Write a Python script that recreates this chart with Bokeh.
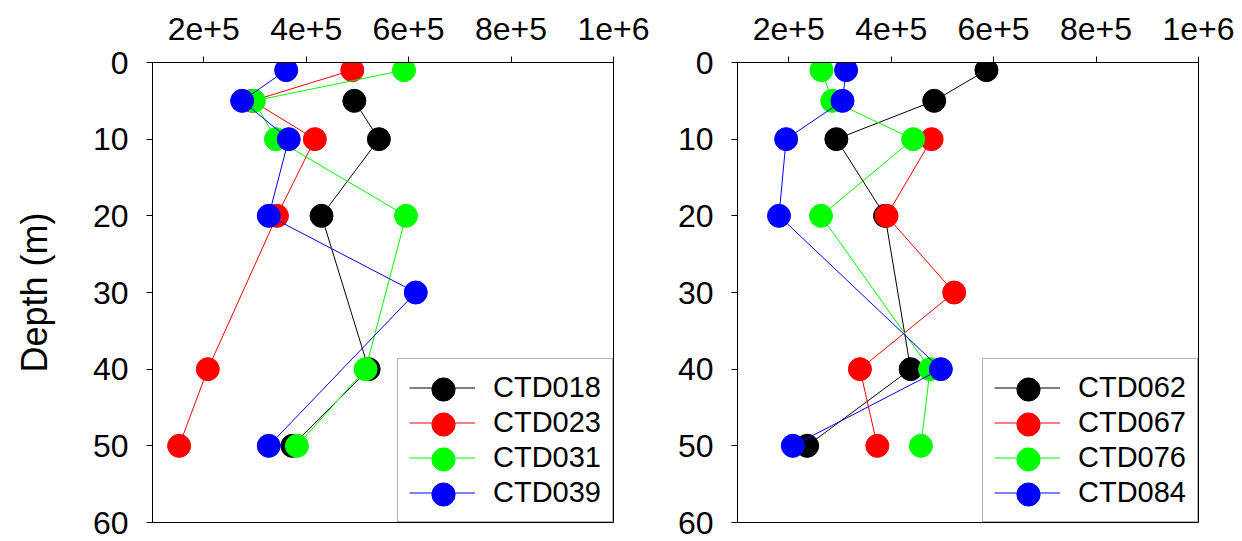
from bokeh.plotting import figure
from bokeh.layouts import row
from bokeh.models import Range1d, FixedTicker, Legend, LegendItem
from bokeh.embed import file_html
from bokeh.resources import INLINE

# ---------------- data ----------------
x_ticks = [200000, 400000, 600000, 800000, 1000000]
x_tick_labels = ["2e+5", "4e+5", "6e+5", "8e+5", "1e+6"]
y_ticks = [0, 10, 20, 30, 40, 50, 60]

# left panel (surface samples sit at 1 m)
depth_018 = [5, 10, 20, 40, 50]
ctd018 = [494000, 542000, 430000, 522000, 373000]
depth_023 = [1, 5, 10, 20, 40, 50]
ctd023 = [490000, 295000, 417000, 343000, 208000, 152000]
depth_031 = [1, 5, 10, 20, 40, 50]
ctd031 = [591000, 298000, 341000, 595000, 516000, 382000]
depth_039 = [1, 5, 10, 20, 30, 50]
ctd039 = [361000, 275000, 366000, 327000, 614000, 327000]

# right panel
depth_062 = [1, 5, 10, 20, 40, 50]
ctd062 = [586000, 484000, 293000, 388000, 438000, 236000]
depth_067 = [10, 20, 30, 40, 50]
ctd067 = [479000, 391000, 523000, 339000, 373000]
depth_076 = [1, 5, 10, 20, 40, 50]
ctd076 = [264000, 285000, 443000, 263000, 476000, 458000]
depth_084 = [1, 5, 10, 20, 40, 50]
ctd084 = [312000, 305000, 195000, 181000, 497000, 208000]

colors = ["#000000", "#FF0000", "#00FF00", "#0000FF"]
FONT = "Liberation Sans"
FRAME_W = 461
MARKER = 23

# legend geometry
LG_PAD = 11
LG_GLYPH_W = 66
LG_ROW = 35
LG_STANDOFF = 18
LG_LABEL_W = 108


def make_fig(width, border_left, border_right, ylabel):
    p = figure(width=width, height=541,
               x_range=Range1d(100000, 1000000), y_range=Range1d(60, 0),
               x_axis_location="above",
               output_backend="svg", toolbar_location=None,
               min_border_left=border_left, min_border_right=border_right,
               min_border_top=62, min_border_bottom=19)
    p.grid.visible = False
    p.outline_line_color = "black"
    p.outline_line_width = 1
    p.outline_line_alpha = 1
    p.background_fill_color = "white"
    p.border_fill_color = "white"

    p.xaxis.ticker = FixedTicker(ticks=x_ticks)
    p.xaxis.major_label_overrides = {t: l for t, l in zip(x_ticks, x_tick_labels)}
    p.yaxis.ticker = FixedTicker(ticks=y_ticks)

    for ax in (p.xaxis[0], p.yaxis[0]):
        ax.axis_line_color = "black"
        ax.major_tick_line_color = "black"
        ax.major_tick_in = 0
        ax.major_tick_out = 6
        ax.minor_tick_in = 0
        ax.minor_tick_out = 0
        ax.major_label_text_font = FONT
        ax.major_label_text_font_size = "32px"
        ax.major_label_text_color = "black"
    p.xaxis.major_label_standoff = 17
    p.yaxis.major_label_standoff = 18
    if ylabel:
        p.yaxis.axis_label = ylabel
        p.yaxis.axis_label_text_font = FONT
        p.yaxis.axis_label_text_font_size = "36px"
        p.yaxis.axis_label_text_font_style = "normal"
        p.yaxis.axis_label_text_color = "black"
        p.yaxis.axis_label_standoff = 35
    return p


def add_panel(p, series):
    line_items = []
    marker_rs = []
    for depths, values, color, name in series:
        lr = p.line(values, depths, line_color=color, line_width=1)
        sr = p.scatter(values, depths, size=MARKER, fill_color=color, line_color=color)
        line_items.append(LegendItem(label=name, renderers=[lr]))
        marker_rs.append(sr)

    main = Legend(items=line_items, location="bottom_right", margin=0,
                  padding=LG_PAD, spacing=0, glyph_height=LG_ROW,
                  glyph_width=LG_GLYPH_W, label_standoff=LG_STANDOFF,
                  label_width=LG_LABEL_W, label_text_font=FONT,
                  label_text_font_size="29px", label_text_color="black",
                  border_line_color="#666666", border_line_width=1,
                  background_fill_color="white", background_fill_alpha=1)
    p.add_layout(main)

    # big legend markers (Bokeh sizes legend markers from the glyph box)
    n = len(series)
    lg_w = 2 * LG_PAD + LG_GLYPH_W + LG_STANDOFF + LG_LABEL_W
    lg_h = 2 * LG_PAD + n * LG_ROW
    box = int(MARKER / 0.4) + 1
    cx = FRAME_W - lg_w + LG_PAD + LG_GLYPH_W / 2
    for i, sr in enumerate(marker_rs):
        cy = lg_h - LG_PAD - LG_ROW / 2 - LG_ROW * i
        ov = Legend(items=[LegendItem(label="", renderers=[sr])],
                    location=(cx - box / 2, cy - box / 2), margin=0, padding=0,
                    spacing=0, glyph_width=box, glyph_height=box,
                    label_width=0, label_height=0, label_standoff=0,
                    label_text_font_size="1px",
                    border_line_alpha=0, background_fill_alpha=0)
        p.add_layout(ov)


left = make_fig(665, 152, 52, "Depth (m)")
add_panel(left, [(depth_018, ctd018, colors[0], "CTD018"),
                 (depth_023, ctd023, colors[1], "CTD023"),
                 (depth_031, ctd031, colors[2], "CTD031"),
                 (depth_039, ctd039, colors[3], "CTD039")])

right = make_fig(577, 72, 44, None)
add_panel(right, [(depth_062, ctd062, colors[0], "CTD062"),
                  (depth_067, ctd067, colors[1], "CTD067"),
                  (depth_076, ctd076, colors[2], "CTD076"),
                  (depth_084, ctd084, colors[3], "CTD084")])

layout = row(left, right)
open("out.html", "w").write(file_html(layout, INLINE))
